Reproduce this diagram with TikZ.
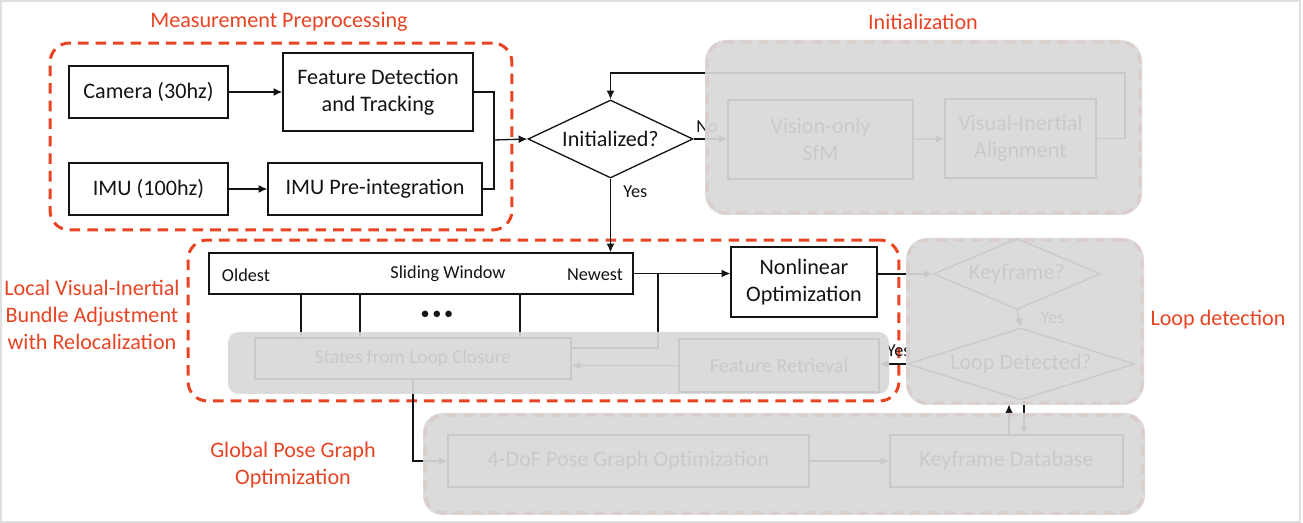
\documentclass[tikz,border=0pt]{standalone}
\usepackage{fontspec}
\setmainfont{Carlito}
\usetikzlibrary{arrows.meta, positioning, calc, shapes.geometric}
\definecolor{vinsred}{RGB}{232,68,36}
\definecolor{veilgray}{RGB}{217,217,217}
\definecolor{ink}{RGB}{20,20,20}
\tikzset{
  box/.style    = {draw=ink, rectangle, line width=0.75pt, align=center, text=ink,
                   inner sep=2pt, font=\fontsize{12.6}{15.3}\selectfont},
  dec/.style    = {draw=ink, diamond, line width=0.75pt, inner sep=0pt, text=ink,
                   font=\fontsize{12.6}{15.3}\selectfont},
  grp/.style    = {draw=vinsred, line width=1.7pt, dash pattern=on 6pt off 4pt,
                   rounded corners=11pt, inner sep=0pt},
  veil/.style   = {fill=veilgray, fill opacity=0.92},
  arr/.style    = {-{Latex[length=5pt, width=4.5pt]}, line width=0.75pt, draw=ink},
  lnk/.style    = {line width=0.75pt, draw=ink},
  lbl/.style    = {font=\fontsize{10.4}{12}\selectfont, text=ink, inner sep=1pt},
  grplbl/.style = {font=\fontsize{12.6}{15.3}\selectfont, text=vinsred, align=center}
}
\begin{document}
\begin{tikzpicture}[x=0.02cm, y=-0.02cm]
  \useasboundingbox (0,0) rectangle (1303,523);
  \fill[white] (0,0) rectangle (1303,523);
  \draw[gray!25, line width=0.8pt] (1,1) rectangle (1300,522);

  % ── Group frames ──────────────────────────────────────────────────────────
  \node[grp, minimum width=9.24cm,  minimum height=3.74cm] (gMeas)  at (281,136.5)  {};
  \node[grp, minimum width=8.66cm,  minimum height=3.42cm] (gInit)  at (923.5,127.5) {};
  \node[grp, minimum width=14.22cm, minimum height=3.22cm] (gLocal) at (543.5,320.5) {};
  \node[grp, minimum width=4.68cm,  minimum height=3.26cm] (gLoop)  at (1025,321.5)  {};
  \node[grp, minimum width=14.36cm, minimum height=1.96cm] (gGlob)  at (784,464)     {};

  % ── Measurement preprocessing ─────────────────────────────────────────────
  \node[box, minimum width=3.18cm, minimum height=1.04cm] (cam) at (148.5,92)  {Camera (30hz)};
  \node[box, minimum width=3.80cm, minimum height=1.56cm] (fdt) at (378,92)    {Feature Detection\\and Tracking};
  \node[box, minimum width=3.18cm, minimum height=1.04cm] (imu) at (148.5,189) {IMU (100hz)};
  \node[box, minimum width=4.28cm, minimum height=1.04cm] (pre) at (375,189)   {IMU Pre-integration};

  % ── Initialization ────────────────────────────────────────────────────────
  \node[dec, aspect=2.2, minimum width=3.30cm, minimum height=1.56cm] (init) at (610.5,139) {Initialized?};
  \node[box, minimum width=3.70cm, minimum height=1.58cm] (sfm)  at (820.5,139.5) {Vision-only\\SfM};
  \node[box, minimum width=3.02cm, minimum height=1.58cm] (via)  at (1020.5,138.5) {Visual-Inertial\\Alignment};
  \coordinate (cLoop) at (1125,73);
  \coordinate (jn)    at (494,140);

  % ── Sliding window / local BA ─────────────────────────────────────────────
  \node[box, minimum width=8.48cm, minimum height=0.82cm] (sw) at (421,273.5) {};
  \node[lbl] (swOld)   at (246,275) {Oldest};
  \node[lbl] (swTitle) at (448,274) {Sliding Window};
  \node[lbl] (swNew)   at (595,275) {Newest};
  \node[lbl] (dots)    at (437,315) {\textbullet\hspace{1.5pt}\textbullet\hspace{1.5pt}\textbullet};
  \node[box, minimum width=2.92cm, minimum height=1.40cm] (nlo)    at (804,282)   {Nonlinear\\Optimization};
  \node[box, minimum width=6.32cm, minimum height=0.82cm,
        font=\fontsize{11}{13}\selectfont]                (states) at (413,358.5) {States from Loop Closure};
  \node[box, minimum width=4.00cm, minimum height=1.06cm,
        font=\fontsize{11.4}{13}\selectfont]              (fr)     at (779,365.5) {Feature Retrieval};
  \coordinate (tap) at (658,273);

  % ── Loop detection ────────────────────────────────────────────────────────
  \node[dec, aspect=2.3, minimum width=3.34cm, minimum height=1.42cm] (kf) at (1017,274) {Keyframe?};
  \node[dec, aspect=3.2, minimum width=4.54cm, minimum height=1.44cm] (ld) at (1021,364) {Loop Detected?};

  % ── Global pose graph ─────────────────────────────────────────────────────
  \node[box, minimum width=7.22cm, minimum height=1.04cm] (pg)  at (628.5,461) {4-DoF Pose Graph Optimization};
  \node[box, minimum width=4.66cm, minimum height=1.04cm] (kdb) at (1006.5,461) {Keyframe Database};
  \coordinate (upA) at (1009,0);
  \coordinate (dnA) at (1024,0);

  % ── Connections ───────────────────────────────────────────────────────────
  \draw[arr] (cam) -- (fdt);
  \draw[arr] (imu) -- (pre);
  \draw[lnk] (fdt.east) -| (jn);
  \draw[lnk] (pre.east) -| (jn);
  \draw[arr] (jn) -- (init.west);

  % initialization branch and its way back
  \draw[arr] (init.east) -- node[lbl, pos=0.4, above, yshift=2pt]{No} (init.east -| sfm.west);
  \draw[arr] (sfm) -- (via);
  \draw[arr] (via.east) -| (cLoop) -| (init.north);

  % initialized: into the sliding window
  \draw[arr] (init.south) -- node[lbl, pos=0.18, right, xshift=6pt]{Yes} (init.south |- sw.north);
  \draw[arr] (sw.east) -- (sw.east -| nlo.west);
  \draw[arr] (kf.west -| nlo.east) -- (kf.west);
  \foreach \x in {301,360,520}
    \draw[lnk] (\x,0 |- sw.south) -- (\x,0 |- states.north);
  \draw[lnk] (tap) |- ($(states.east)+(0,-10.5)$);
  \draw[arr] (fr.west) -- (fr.west -| states.east);
  \draw[arr] (states.south) |- (pg.west);

  % loop detection
  \draw[arr] (kf.south) -- node[lbl, pos=0.45, right, xshift=11pt]{Yes} (ld.north);
  \draw[arr] (ld.west) -- node[lbl, pos=0.3, above, yshift=3pt]{Yes} (ld.west -| fr.east);
  \draw[arr] (upA |- kdb.north) -- (upA |- gLoop.south);
  \draw[arr] (dnA |- ld.south) -- (dnA |- kdb.north);
  \draw[arr] (pg) -- (kdb);

  % ── Greyed-out parts ──────────────────────────────────────────────────────
  \fill[veil, rounded corners=12pt] (705,40)  rectangle (1142,215);
  \fill[veil, rounded corners=12pt] (906,238) rectangle (1144,405);
  \fill[veil, rounded corners=11pt] (423,413) rectangle (1145,515);
  \fill[veil, rounded corners=6pt]  (228,332) rectangle (889,394);

  % ── Group labels ──────────────────────────────────────────────────────────
  \node[grplbl] (tMeas)  at (279,22)  {Measurement Preprocessing};
  \node[grplbl] (tInit)  at (923,22)  {Initialization};
  \node[grplbl] (tLocal) at (92,315)  {Local Visual-Inertial\\Bundle Adjustment\\with Relocalization};
  \node[grplbl] (tLoop)  at (1218,320) {Loop detection};
  \node[grplbl] (tGlob)  at (293,465) {Global Pose Graph\\Optimization};

\end{tikzpicture}
\end{document}
